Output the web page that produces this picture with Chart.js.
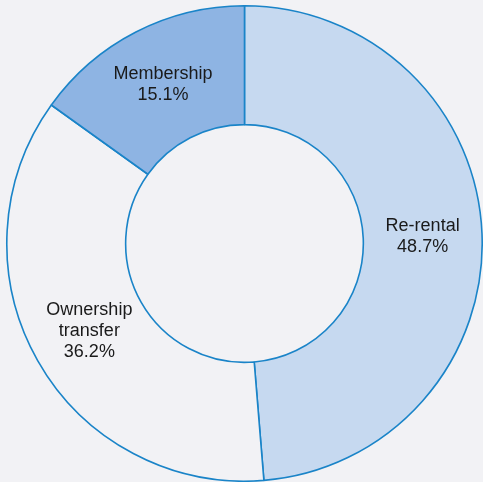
<!DOCTYPE html>
<html>
<head>
<meta charset="utf-8">
<script src="https://cdn.jsdelivr.net/npm/chart.js@4/dist/chart.umd.min.js"></script>
<style>
  html, body { margin: 0; padding: 0; background: #f2f2f5; }
  #wrap { width: 483px; height: 482px; }
</style>
</head>
<body>
<div id="wrap"><canvas id="myChart"></canvas></div>
<script>
const labels = [['Re-rental'], ['Ownership', 'transfer'], ['Membership']];
const shares = [48.7, 36.2, 15.1];
const colors = ['#c6d9f0', '#f2f2f5', '#8eb4e3'];

// draw the label + percentage in the middle of each slice
const sliceLabels = {
  id: 'sliceLabels',
  afterDatasetsDraw(chart) {
    const ctx = chart.ctx;
    const meta = chart.getDatasetMeta(0);
    ctx.save();
    ctx.font = '18px "Liberation Sans", Arial, sans-serif';
    ctx.fillStyle = '#1a1a1a';
    ctx.textAlign = 'center';
    ctx.textBaseline = 'middle';
    meta.data.forEach((arc, i) => {
      const p = arc.tooltipPosition();
      const lines = labels[i].concat([shares[i].toFixed(1) + '%']);
      const lh = 21;
      const y0 = p.y - (lines.length - 1) * lh / 2;
      lines.forEach((t, j) => ctx.fillText(t, p.x, y0 + j * lh));
    });
    ctx.restore();
  }
};

const ctx = document.getElementById('myChart').getContext('2d');
const myChart = new Chart(ctx, {
  type: 'doughnut',
  data: {
    labels: labels.map(l => l.join(' ')),
    datasets: [{
      data: shares,
      backgroundColor: colors,
      borderColor: '#1a84c8',
      borderWidth: 1.6
    }]
  },
  options: {
    responsive: true,
    maintainAspectRatio: false,
    animation: false,
    cutout: '50%',
    plugins: {
      legend: { display: false },
      tooltip: { enabled: false }
    },
    layout: {
      padding: { top: 5, left: 6, right: 0, bottom: 0 }
    }
  },
  plugins: [sliceLabels]
});
</script>
</body>
</html>
